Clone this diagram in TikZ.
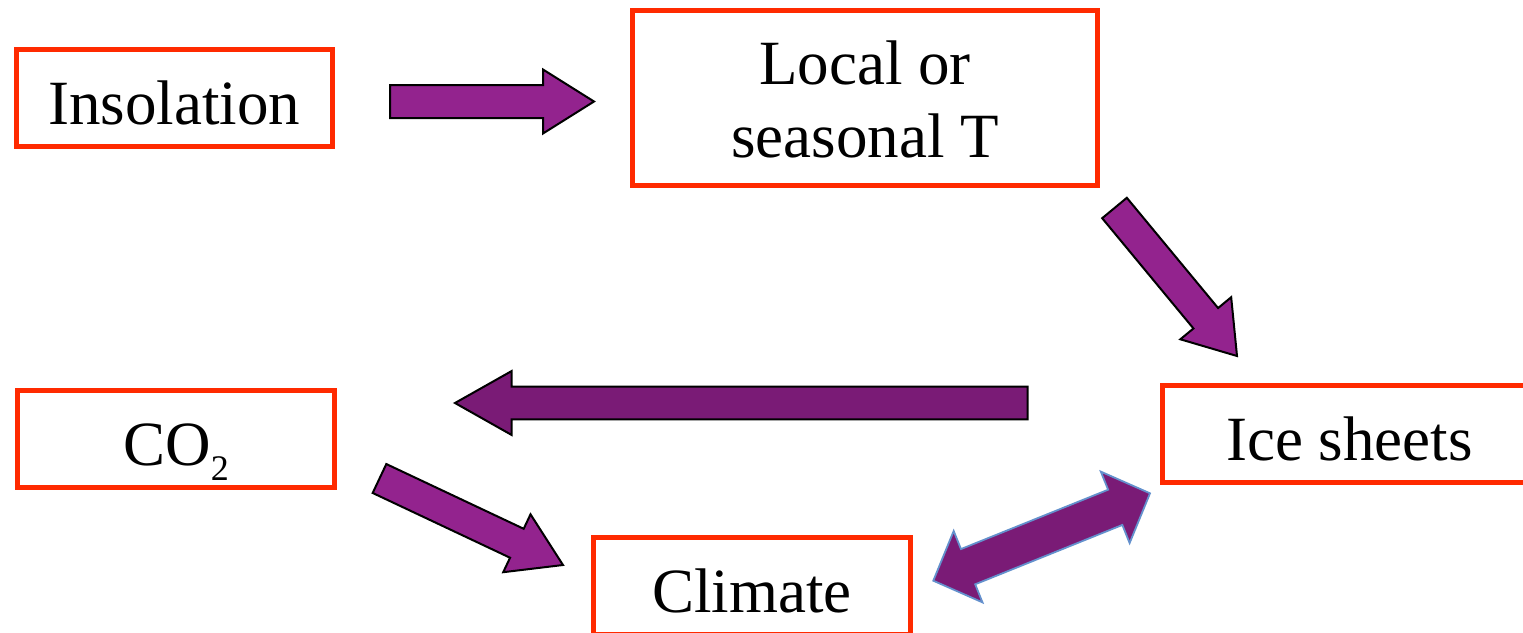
\documentclass[tikz,border=0pt]{standalone}
\usepackage{fontspec}
\setmainfont{Liberation Serif}
\usetikzlibrary{calc}

\definecolor{boxred}{RGB}{255,42,0}
\definecolor{arrowpurple}{RGB}{147,35,142}
\definecolor{darkpurple}{RGB}{122,27,118}
\definecolor{edgeblue}{RGB}{100,145,205}

% block arrow: [style]{from}{to}{body half width}{head half width}{head length}
\newcommand{\fatarrow}[6][]{%
  \draw[#1] ($(#2)!#4!90:(#3)$) -- ($(#3)!#6!(#2)!#4!-90:(#2)$)
    -- ($(#3)!#6!(#2)!#5!-90:(#2)$) -- (#3)
    -- ($(#3)!#6!(#2)!#5!90:(#2)$) -- ($(#3)!#6!(#2)!#4!90:(#2)$)
    -- ($(#2)!#4!-90:(#3)$) -- cycle;}
% same, with a head at both ends
\newcommand{\fatdarrow}[6][]{%
  \draw[#1] ($(#2)!#6!(#3)!#4!90:(#3)$) -- ($(#3)!#6!(#2)!#4!-90:(#2)$)
    -- ($(#3)!#6!(#2)!#5!-90:(#2)$) -- (#3)
    -- ($(#3)!#6!(#2)!#5!90:(#2)$) -- ($(#3)!#6!(#2)!#4!90:(#2)$)
    -- ($(#2)!#6!(#3)!#4!-90:(#3)$) -- ($(#2)!#6!(#3)!#5!-90:(#3)$)
    -- (#2) -- ($(#2)!#6!(#3)!#5!90:(#3)$) -- cycle;}

\begin{document}
\begin{tikzpicture}[x=1pt,y=-1pt,
  box/.style={draw=boxred,line width=5pt,inner sep=0pt,minimum height=97pt,
    font=\fontsize{63}{73}\selectfont,align=center,text height=52pt,text depth=0pt},
  flow/.style={fill=arrowpurple,draw=black,line width=2pt},
  back/.style={fill=darkpurple,draw=black,line width=2pt},
  both/.style={fill=darkpurple,draw=edgeblue,line width=1.8pt}]
\useasboundingbox (0,0) rectangle (1523,632);

% boxes
\node[box,minimum width=316.5pt] (ins) at (174.25,98.25) {Insolation};
\node[box,minimum width=465pt,minimum height=175.5pt,text height=118.5pt] (loc) at (865,97.75) {Local or\\seasonal T};
\node[box,minimum width=317pt] (co2) at (176,439) {CO\raisebox{-15pt}{\fontsize{36}{36}\selectfont 2}};
\node[box,minimum width=374pt] (ice) at (1349.5,434) {Ice sheets};
\node[box,minimum width=317pt] (cli) at (752,586) {Climate};

% arrow ends
\coordinate (ins-out) at (390,101.5);
\coordinate (loc-in) at (594,101.5);
\coordinate (loc-out) at (1114.5,208);
\coordinate (ice-in) at (1237,356);
\coordinate (ice-out) at (1027.7,403);
\coordinate (co2-in) at (455,403);
\coordinate (co2-out) at (379.5,478.5);
\coordinate (cli-in) at (563,565);
\coordinate (cli-end) at (933.3,580.7);
\coordinate (ice-end) at (1150,493.3);

\fatarrow[flow]{ins-out}{loc-in}{16.5pt}{32pt}{51pt}
\fatarrow[flow]{loc-out}{ice-in}{16pt}{33pt}{49pt}
\fatarrow[back]{ice-out}{co2-in}{16.3pt}{32pt}{56.7pt}
\fatarrow[flow]{co2-out}{cli-in}{16pt}{32pt}{51pt}
\fatdarrow[both]{cli-end}{ice-end}{19pt}{38.5pt}{37.5pt}
\end{tikzpicture}
\end{document}
